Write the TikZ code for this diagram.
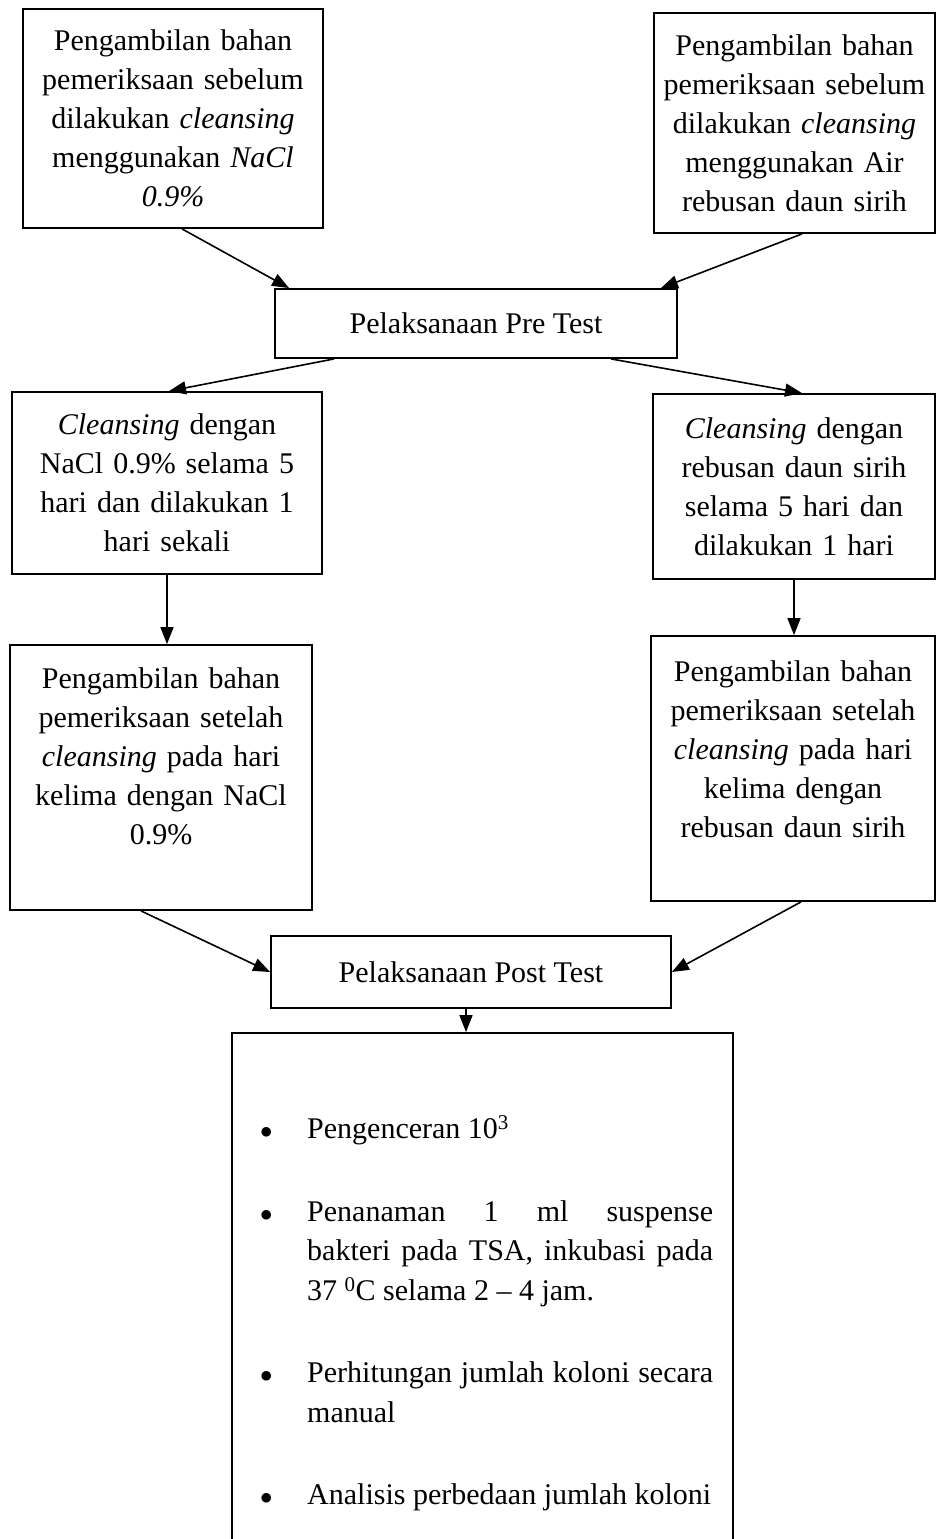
\documentclass[tikz,border=0pt]{standalone}
\usepackage{fontspec}
\setmainfont{Liberation Serif}
\usetikzlibrary{arrows.meta}

\newcommand{\butir}[1]{\par\hangindent=55pt\hangafter=1\noindent
  \makebox[55pt][l]{\hspace{8pt}$\bullet$}#1\par\vspace{43pt}}

\begin{document}
\begin{tikzpicture}[x=1pt, y=-1pt,
  kotak/.style={draw, line width=1.8pt, align=center, inner sep=0pt,
    font=\fontsize{30}{39}\selectfont},
  panah/.style={line width=1.6pt, -{Triangle[length=17pt,width=13pt]}}]
\useasboundingbox (0,0) rectangle (937,1539);
\clip (0,0) rectangle (937,1539);

% Sebelum cleansing
\node [kotak, minimum width=300pt, minimum height=219pt, text width=284pt] (ambilNaCl) at (173,118.5)
  {Pengambilan bahan\\ pemeriksaan sebelum\\ dilakukan \textit{cleansing}\\ menggunakan \textit{NaCl}\\ \textit{0.9\%}};
\node [kotak, minimum width=281pt, minimum height=220pt, text width=270pt] (ambilSirih) at (794.5,123)
  {Pengambilan bahan\\ pemeriksaan sebelum\\ dilakukan \textit{cleansing}\\ menggunakan Air\\ rebusan daun sirih};

% Pre test
\node [kotak, minimum width=402pt, minimum height=69pt] (preTest) at (476,323.5) {Pelaksanaan Pre Test};
\draw [panah] ([xshift=9pt]ambilNaCl.south) -- ([xshift=15pt]preTest.north west);
\draw [panah] ([xshift=7.5pt]ambilSirih.south) -- ([xshift=-17pt]preTest.north east);

% Cleansing
\node [kotak, minimum width=310pt, minimum height=182pt, text width=294pt] (cleanNaCl) at (167,483)
  {\textit{Cleansing} dengan\\ NaCl 0.9\% selama 5\\ hari dan dilakukan 1\\ hari sekali};
\node [kotak, minimum width=282pt, minimum height=185pt, text width=270pt] (cleanSirih) at (794,486.5)
  {\textit{Cleansing} dengan\\ rebusan daun sirih\\ selama 5 hari dan\\ dilakukan 1 hari};
\draw [panah] ([xshift=60pt]preTest.south west) -- ([xshift=2pt]cleanNaCl.north);
\draw [panah] ([xshift=-67pt]preTest.south east) -- ([xshift=8pt]cleanSirih.north);

% Setelah cleansing
\node [kotak, minimum width=302pt, minimum height=265pt, text width=288pt] (pascaNaCl) at (161,777.5)
  {Pengambilan bahan\\ pemeriksaan setelah\\ \textit{cleansing} pada hari\\ kelima dengan NaCl\\ 0.9\%\\[4pt] \mbox{}};
\node [kotak, minimum width=284pt, minimum height=265pt, text width=270pt] (pascaSirih) at (793,768.5)
  {Pengambilan bahan\\ pemeriksaan setelah\\ \textit{cleansing} pada hari\\ kelima dengan\\ rebusan daun sirih\\ \mbox{}};
\draw [panah] (cleanNaCl.south) -- (cleanNaCl.south |- pascaNaCl.north);
\draw [panah] (cleanSirih.south) -- (cleanSirih.south |- pascaSirih.north);

% Post test
\node [kotak, minimum width=400pt, minimum height=72pt] (postTest) at (471,972) {Pelaksanaan Post Test};
\draw [panah] ([xshift=-20pt]pascaNaCl.south) -- (postTest.west);
\draw [panah] ([xshift=8pt]pascaSirih.south) -- (postTest.east);

% Analisis
\node [kotak, minimum width=501pt, minimum height=547pt] (analisis) at (482.5,1306.5) {};
\draw [panah] ([xshift=-5pt]postTest.south) -- ([xshift=-5pt]postTest.south |- analisis.north);
\node [anchor=north west, text width=461pt, align=justify, inner sep=0pt,
  font=\fontsize{30}{39.5}\selectfont] (analisisIsi) at (252,1099)
  {\butir{Pengenceran 10\textsuperscript{3}}
   \butir{Penanaman 1 ml suspense\linebreak bakteri pada TSA, inkubasi pada\linebreak 37~\textsuperscript{0}C selama 2 -- 4 jam.}
   \butir{Perhitungan jumlah koloni secara manual}
   \butir{Analisis perbedaan jumlah koloni}};
\end{tikzpicture}
\end{document}
